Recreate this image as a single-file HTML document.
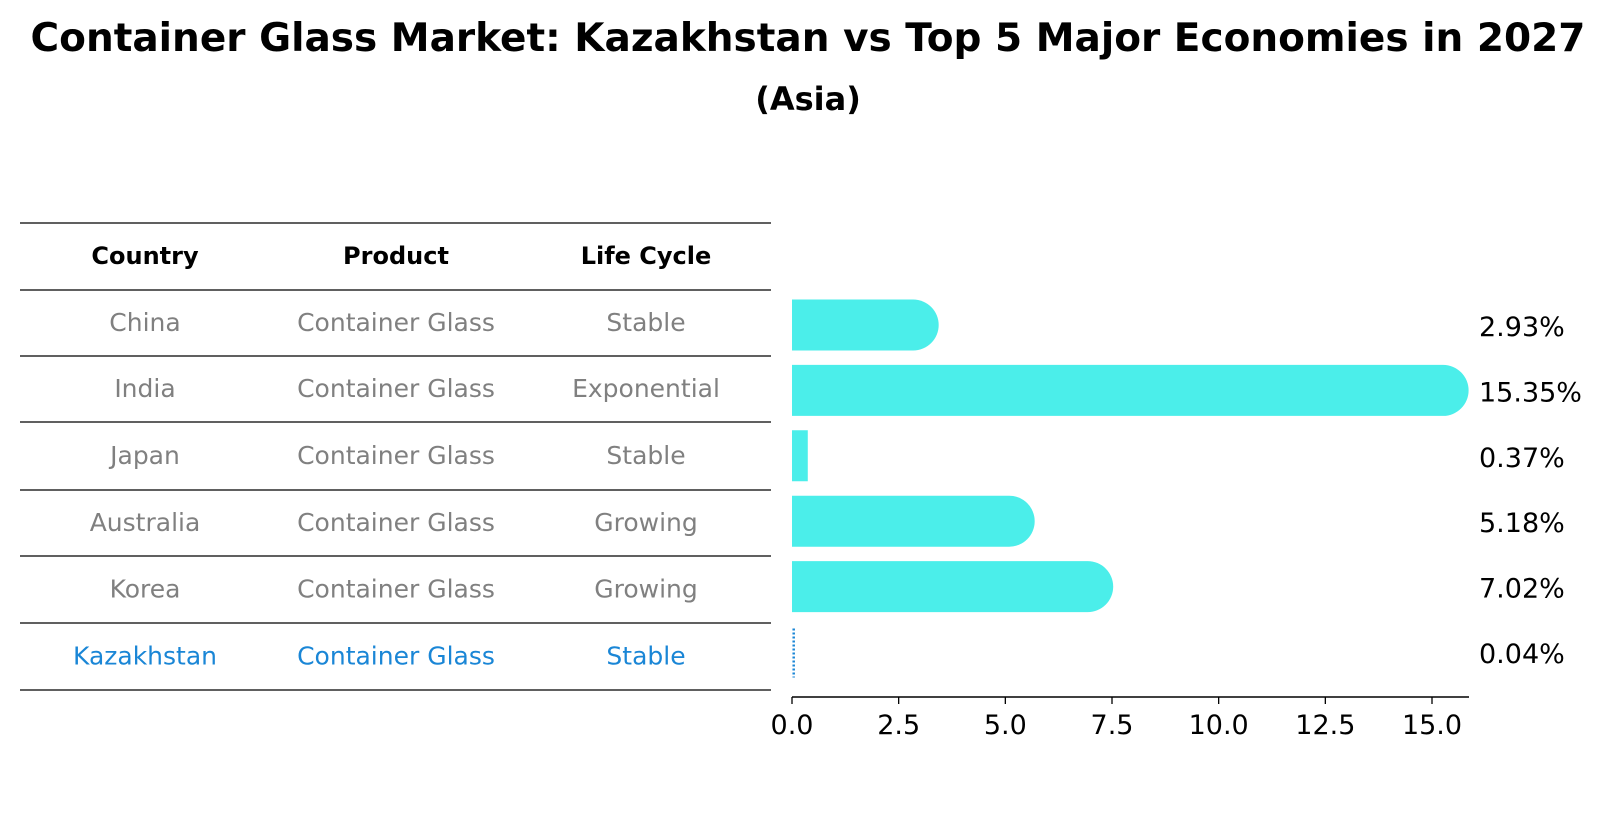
<!DOCTYPE html>
<html><head><meta charset="utf-8"><style>
body{margin:0;background:#fff;}
svg{display:block;font-family:"DejaVu Sans","Liberation Sans",sans-serif;}
</style></head><body>
<svg id="chart" width="1604" height="823" viewBox="0 0 1604 823">
<text x="808" y="51" text-anchor="middle" font-size="39" font-weight="bold">Container Glass Market: Kazakhstan vs Top 5 Major Economies in 2027</text>
<text x="808" y="110" text-anchor="middle" font-size="32" font-weight="bold">(Asia)</text>
<g id="table"></g>
<g id="bars"></g>
</svg>
<script>
const countries=["China","India","Japan","Australia","Korea","Kazakhstan"];
const products=["Container Glass","Container Glass","Container Glass","Container Glass","Container Glass","Container Glass"];
const lifeCycles=["Stable","Exponential","Stable","Growing","Growing","Stable"];
const shares=[2.93,15.35,0.37,5.18,7.02,0.04];
const xTicks=[0,2.5,5,7.5,10,12.5,15];
const NS="http://www.w3.org/2000/svg";
function mk(tag,attrs,parent,text){const e=document.createElementNS(NS,tag);for(const k in attrs)e.setAttribute(k,attrs[k]);if(text!==undefined)e.textContent=text;parent.appendChild(e);return e;}
const tbl=document.getElementById('table');
const lineY=[223,290,356,422,490,556,623,690];
lineY.forEach((y,i)=>{const l=mk('line',{x1:20,x2:771,y1:y,y2:y,stroke:'#000','stroke-width':1.2},tbl);

});
const colX=[145,396,646];
["Country","Product","Life Cycle"].forEach((h,i)=>{const t=mk('text',{x:colX[i],y:264,'text-anchor':'middle','font-size':24,'font-weight':'bold'},tbl,h);

});
countries.forEach((c,r)=>{const y=(lineY[r+1]+lineY[r+2])/2+8;const col=r===countries.length-1?'#1a86d6':'#808080';
[c,products[r],lifeCycles[r]].forEach((v,i)=>{const t=mk('text',{x:colX[i],y:y,'text-anchor':'middle','font-size':25,fill:col},tbl,v);

});});
const g=document.getElementById('bars');
const x0=792,xPer=(1432-792)/15,axisY=697;
const xs=v=>x0+v*xPer;
const barY=[325,390,455,522,586,652],bh=51;
const ys=i=>barY[0]+i*(barY[5]-barY[0])/5;
shares.forEach((v,i)=>{const cy=ys(i);
if(i===countries.length-1){const l=mk('line',{x1:xs(v),x2:xs(v),y1:cy-bh/2+2,y2:cy+bh/2,stroke:'#1a86d6','stroke-width':2.5,'stroke-dasharray':'2,2'},g);

}
else{const r=bh/2;let d;
if(v>1){const xe=xs(v)-r*0.15;d=`M${x0},${cy-r}H${xe}A${r},${r} 0 0 1 ${xe},${cy+r}H${x0}Z`;}
else d=`M${x0},${cy-r}H${xs(v)}V${cy+r}H${x0}Z`;
const p=mk('path',{d:d,fill:'#4beeea'},g);

}
const t=mk('text',{x:1479,y:cy+11,'font-size':27},g,v.toFixed(2)+'%');

});
const ax=mk('line',{x1:x0,x2:1469,y1:axisY,y2:axisY,stroke:'#000','stroke-width':1.5},g);


xTicks.forEach(v=>{const l=mk('line',{x1:xs(v),x2:xs(v),y1:axisY,y2:axisY+7,stroke:'#000','stroke-width':1.3},g);


const t=mk('text',{x:xs(v),y:axisY+37,'text-anchor':'middle','font-size':27},g,v.toFixed(1));

});
</script>
</body></html>
